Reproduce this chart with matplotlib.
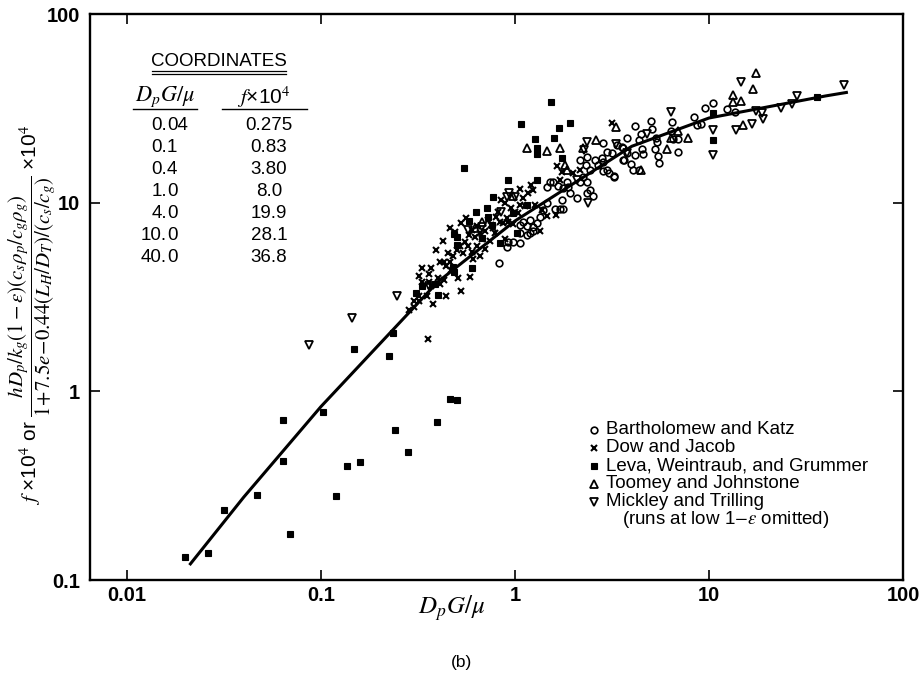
import matplotlib
matplotlib.use("Agg")
import matplotlib.pyplot as plt
from matplotlib.lines import Line2D

plt.rcParams["font.family"] = ["Liberation Sans", "DejaVu Sans"]
plt.rcParams["mathtext.fontset"] = "stix"

W, H = 923, 673

# smooth correlation curve: table coordinates plus the drawn end points
CURVE_X = [0.021, 0.04, 0.1, 0.4, 1.0, 4.0, 10.0, 40.0, 52.0]
CURVE_Y = [0.12, 0.275, 0.83, 3.80, 8.0, 19.9, 28.1, 36.8, 38.5]

TABLE_RE = ["0.04", "0.1", "0.4", "1.0", "4.0", "10.0", "40.0"]
TABLE_F = ["0.275", "0.83", "3.80", "8.0", "19.9", "28.1", "36.8"]

# Bartholomew and Katz (open circles)
BK_X = [0.83, 0.91, 0.92, 0.98, 1.06, 1.06, 1.15, 1.19, 1.24, 1.10, 1.06, 1.15, 1.19, 1.24,
        1.30, 1.35, 1.39, 1.46, 1.61, 1.71, 1.77, 1.75, 1.46, 1.51, 1.57, 1.66, 1.77, 1.85,
        1.87, 1.92, 2.09, 2.16, 2.35, 2.24, 2.44, 2.35, 2.52, 2.16, 2.35, 2.32, 2.44, 2.58,
        2.68, 2.81, 2.84, 2.98, 3.16, 2.98, 3.22, 3.35, 3.60, 3.77, 3.77, 3.60, 2.84, 2.84,
        3.05, 3.24, 3.56, 3.64, 3.96, 4.06, 4.16, 4.16, 4.35, 4.46, 4.52, 4.57, 5.02, 5.08,
        5.27, 5.33, 5.40, 5.46, 5.52, 4.35, 6.43, 6.36, 6.90, 6.90, 6.50, 8.34, 8.67, 9.11,
        9.55, 10.5, 12.4, 13.6]
BK_Y = [4.8, 5.8, 6.2, 6.2, 6.1, 6.9, 6.7, 6.9, 7.1, 7.9, 7.6, 7.5, 8.1, 7.4,
        7.8, 8.4, 9.1, 9.9, 9.3, 9.3, 9.2, 10.3, 12.1, 12.9, 12.8, 12.2, 12.0, 12.9,
        12.1, 11.2, 10.6, 12.8, 12.9, 13.6, 11.7, 11.2, 10.8, 16.9, 17.4, 15.9, 14.9, 16.9,
        15.9, 17.2, 20.6, 18.6, 18.4, 14.9, 13.6, 20.2, 19.6, 18.4, 21.9, 16.9, 16.4, 14.7,
        14.3, 13.9, 19.7, 16.9, 16.1, 14.9, 17.9, 25.4, 21.5, 23.2, 19.3, 18.2, 27.0, 24.6,
        19.3, 22.0, 20.9, 17.6, 16.3, 14.9, 26.7, 24.0, 18.5, 21.7, 21.7, 28.4, 25.8, 26.1,
        31.9, 33.6, 31.5, 30.1]

# Dow and Jacob (crosses)
DJ_X = [0.30, 0.32, 0.30, 0.32, 0.35, 0.44, 0.53, 0.32, 0.33, 0.36, 0.37, 0.41, 0.43, 0.33,
        0.37, 0.41, 0.43, 0.46, 0.425, 0.45, 0.53, 0.52, 0.55, 0.58, 0.60, 0.61, 0.585, 0.64,
        0.68, 0.70, 0.74, 0.79, 0.84, 0.91, 0.98, 1.04, 1.06, 1.10, 1.17, 1.27, 1.38, 1.46,
        1.65, 1.75, 3.16, 2.00, 2.16, 0.49, 0.46, 0.56, 0.64, 0.73, 0.82, 0.77, 0.89, 0.66,
        0.39, 0.36, 0.47, 0.51, 0.85, 0.89, 1.06, 1.21, 1.24, 0.87, 0.92, 1.63, 1.71, 1.35,
        0.285, 0.38, 0.357, 0.40, 0.44, 0.48, 0.50, 0.54, 0.57, 0.62, 0.66, 0.70, 0.75,
        0.80, 0.95, 1.00, 1.12, 0.60]
DJ_Y = [3.0, 3.0, 2.8, 3.2, 3.2, 3.2, 3.4, 4.1, 3.8, 3.8, 3.6, 3.7, 3.9, 4.5,
        4.5, 4.85, 4.85, 4.85, 6.3, 5.4, 7.8, 5.9, 6.2, 6.7, 5.5, 5.0, 4.05, 5.9,
        6.4, 5.7, 6.3, 6.9, 7.9, 8.3, 7.7, 8.8, 9.7, 10.6, 11.2, 9.7, 9.1, 8.5,
        15.6, 14.5, 26.6, 14.3, 14.9, 7.0, 7.3, 8.3, 7.5, 8.1, 8.9, 7.3, 6.4, 5.2,
        5.6, 4.2, 4.4, 4.0, 10.3, 9.9, 11.8, 12.4, 11.7, 7.8, 7.9, 8.6, 13.2, 7.1,
        2.7, 2.9, 1.89, 4.0, 4.6, 5.2, 5.6, 5.4, 5.9, 6.6, 6.9, 7.1, 7.6,
        8.4, 9.4, 8.9, 9.6, 7.2]

# Leva, Weintraub, and Grummer (filled squares)
LWG_X = [0.0199, 0.0262, 0.0316, 0.0468, 0.0637, 0.0637, 0.0692, 0.102, 0.119, 0.136,
         0.159, 0.148, 0.224, 0.235, 0.240, 0.281, 0.396, 0.462, 0.502,
         0.31, 0.40, 0.387, 0.33, 0.48, 0.485, 0.60, 0.485, 0.50, 0.50, 0.68, 0.84, 1.02,
         0.58, 0.76, 0.63, 0.72, 0.73, 0.98, 1.15, 0.77, 0.92, 1.30, 0.546, 1.07, 1.92,
         1.69, 1.27, 1.59, 1.30, 1.30, 1.75, 1.53, 10.5, 10.5, 36.0]
LWG_Y = [0.132, 0.139, 0.235, 0.282, 0.705, 0.428, 0.175, 0.776, 0.279, 0.402,
         0.421, 1.67, 1.54, 2.04, 0.624, 0.477, 0.687, 0.910, 0.899,
         3.32, 3.24, 3.69, 3.6, 4.56, 4.3, 4.5, 6.8, 6.6, 6.0, 6.5, 6.1, 6.9,
         8.0, 7.6, 8.9, 9.4, 8.4, 8.8, 9.7, 10.7, 13.2, 13.2, 15.2, 26.1, 26.4,
         24.8, 21.7, 22.0, 19.5, 18.1, 17.2, 34.1, 21.5, 29.9, 36.4]

# Toomey and Johnstone (open up-triangles)
TJ_X = [1.15, 1.46, 1.71, 1.81, 1.85, 2.61, 2.24, 3.31, 0.68, 0.62, 0.98, 4.46, 6.09,
        6.95, 7.80, 6.40, 13.3, 13.3, 14.6, 16.8, 17.5, 14.9]
TJ_Y = [19.6, 18.8, 19.6, 15.9, 14.9, 21.5, 19.4, 25.1, 7.9, 7.3, 10.8, 14.9, 19.3,
        24.0, 22.0, 22.0, 37.3, 34.3, 34.7, 40.0, 48.5, 25.8]

# Mickley and Trilling (open down-triangles)
MT_X = [0.0867, 0.144, 0.247, 0.36, 0.57, 0.68, 0.85, 0.93, 0.91, 1.0, 2.35, 2.27, 2.38,
        2.09, 3.31, 3.77, 4.79, 6.36, 10.5, 10.5, 14.7, 17.5, 18.8, 19.0, 16.6, 13.8,
        23.5, 26.7, 28.3, 49.5]
MT_Y = [1.76, 2.44, 3.20, 3.6, 7.2, 7.4, 8.9, 11.2, 10.7, 10.7, 21.0, 19.0, 9.9,
        13.2, 20.4, 18.4, 23.2, 30.1, 24.3, 17.9, 43.5, 30.6, 29.9, 27.9, 26.0, 24.3,
        31.9, 33.3, 36.6, 42.0]

SERIES = [
    ("Bartholomew and Katz", BK_X, BK_Y, dict(marker="o", ms=4.8, mfc="none", mew=1.2)),
    ("Dow and Jacob", DJ_X, DJ_Y, dict(marker="x", ms=4.4, mew=1.5)),
    ("Leva, Weintraub, and Grummer", LWG_X, LWG_Y, dict(marker="s", ms=4.6, mfc="black", mew=0.8)),
    ("Toomey and Johnstone", TJ_X, TJ_Y, dict(marker="^", ms=5.4, mfc="none", mew=1.3)),
    ("Mickley and Trilling", MT_X, MT_Y, dict(marker="v", ms=5.4, mfc="none", mew=1.3)),
]


def fx(px):
    return px / W


def fy(py):
    return 1 - py / H


fig = plt.figure(figsize=(W / 100, H / 100), dpi=100)
ax = fig.add_axes([fx(90), fy(580), fx(903) - fx(90), fy(14) - fy(580)])

ax.plot(CURVE_X, CURVE_Y, color="black", lw=2.2, solid_capstyle="butt", zorder=2)
for label, xs, ys, style in SERIES:
    ax.plot(xs, ys, ls="none", color="black", mec="black", zorder=3, **style)

ax.set_xscale("log")
ax.set_yscale("log")
ax.set_xlim(0.00645, 100)
ax.set_ylim(0.1, 100)
ax.set_xticks([0.01, 0.1, 1, 10, 100])
ax.set_xticklabels(["0.01", "0.1", "1", "10", "100"])
ax.set_yticks([0.1, 1, 10, 100])
ax.set_yticklabels(["0.1", "1", "10", "100"])
ax.minorticks_off()
ax.tick_params(direction="in", top=True, right=True, length=7, width=1.2, labelsize=14.5)
ax.tick_params(axis="x", pad=4)
ax.tick_params(axis="y", pad=7)
for lab in ax.get_xticklabels() + ax.get_yticklabels():
    lab.set_fontweight("bold")
for sp in ax.spines.values():
    sp.set_linewidth(1.7)

# legend, drawn by hand to keep the book layout
rows_y = [430, 448, 466, 484, 502]
for (label, xs, ys, style), py in zip(SERIES, rows_y):
    fig.add_artist(Line2D([fx(594)], [fy(py)], transform=fig.transFigure, ls="none",
                          color="black", mec="black", **style))
    fig.text(fx(606), fy(py), label, fontsize=13.5, va="center", ha="left")
fig.text(fx(622), fy(520), r"(runs at low 1$-\epsilon$ omitted)", fontsize=13.5,
         va="center", ha="left")

# coordinates table
fig.text(fx(219), fy(61), "COORDINATES", fontsize=13.5, ha="center", va="center")
for py in (70.5, 73.5):
    fig.add_artist(Line2D([fx(152), fx(286)], [fy(py), fy(py)], color="black", lw=0.9))
fig.text(fx(165), fy(97), r"$D_pG/\mu$", fontsize=16, ha="center", va="center")
fig.text(fx(264), fy(97), r"$f$×10$^4$", fontsize=15, ha="center", va="center")
fig.add_artist(Line2D([fx(133), fx(197)], [fy(109), fy(109)], color="black", lw=1.0))
fig.add_artist(Line2D([fx(222), fx(307)], [fy(109), fy(109)], color="black", lw=1.0))
for i, (re_val, f_val) in enumerate(zip(TABLE_RE, TABLE_F)):
    py = 125 + 22 * i
    whole, frac = re_val.split(".")
    fig.text(fx(167), fy(py), whole + ".", fontsize=13.5, ha="right", va="center")
    fig.text(fx(167), fy(py), frac, fontsize=13.5, ha="left", va="center")
    fig.text(fx(269), fy(py), f_val, fontsize=13.5, ha="center", va="center")

# axis titles
fig.text(fx(452), fy(608), r"$D_pG/\mu$", fontsize=18, ha="center", va="center")
ylab = (r"$f$ ×10$^4$ or "
        r"$\dfrac{hD_p/k_g(1-\epsilon)(c_s\rho_p/c_g\rho_g)}"
        r"{1\!+\!7.5e\!-\!0.44(L_H/D_T)/(c_s/c_g)}$ ×10$^4$")
fig.text(fx(32), fy(315), ylab, fontsize=15, rotation=90, ha="center", va="center")

fig.text(fx(461), fy(662), "(b)", fontsize=12.5, ha="center", va="center")

fig.savefig("out.png", dpi=100)
